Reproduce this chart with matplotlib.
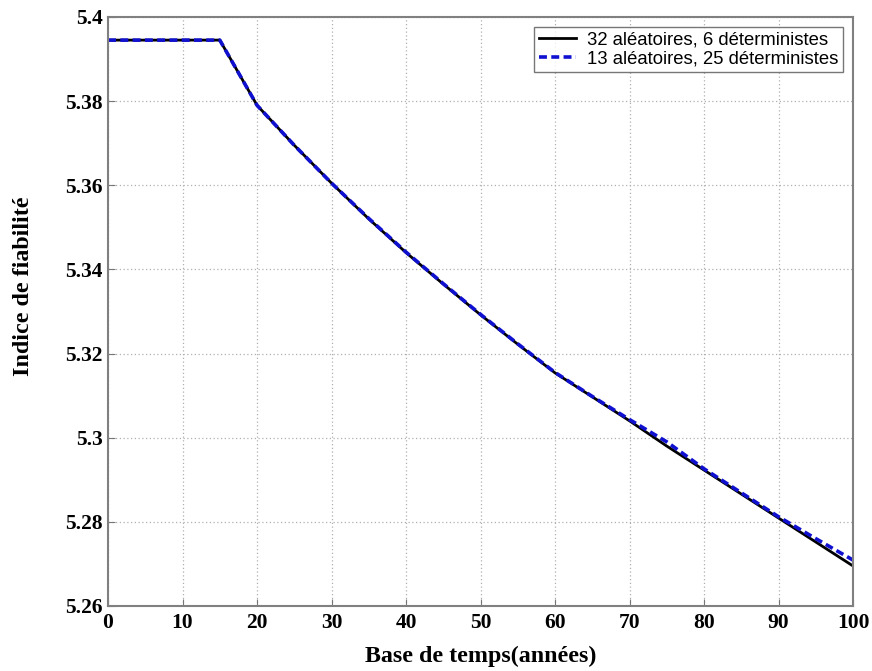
import matplotlib
matplotlib.use("Agg")
import matplotlib.pyplot as plt

t = [0, 5, 10, 15, 20, 25, 30, 35, 40, 45, 50, 55, 60, 65, 70, 75, 80, 85, 90, 95, 100]
beta_32 = [5.3945, 5.3945, 5.3945, 5.3945, 5.3790, 5.3695, 5.3605, 5.3520, 5.3440, 5.3365, 5.3292,
           5.3222, 5.3154, 5.3097, 5.3040, 5.2980, 5.2923, 5.2866, 5.2809, 5.2752, 5.2695]
beta_13 = [5.3945, 5.3945, 5.3945, 5.3945, 5.3790, 5.3695, 5.3605, 5.3521, 5.3441, 5.3366, 5.3293,
           5.3223, 5.3155, 5.3098, 5.3043, 5.2990, 5.2926, 5.2869, 5.2812, 5.2760, 5.2709]
labels = ["32 aléatoires, 6 déterministes", "13 aléatoires, 25 déterministes"]
xticks = [0, 10, 20, 30, 40, 50, 60, 70, 80, 90, 100]
yticks = [5.26, 5.28, 5.3, 5.32, 5.34, 5.36, 5.38, 5.4]
yticklabels = ["5.26", "5.28", "5.3", "5.32", "5.34", "5.36", "5.38", "5.4"]

fig = plt.figure(figsize=(8.72, 6.71), dpi=100)
ax = fig.add_axes([0.1239, 0.0969, 0.8544, 0.8778])

ax.plot(t, beta_32, color="black", lw=2.0, label=labels[0])
ax.plot(t, beta_13, color="#1010d0", lw=2.6, ls=(0, (2.2, 1.2)), label=labels[1])

ax.set_xlim(0, 100)
ax.set_ylim(5.26, 5.4)
ax.set_xticks(xticks)
ax.set_yticks(yticks)
ax.set_yticklabels(yticklabels)
for lab in ax.get_xticklabels() + ax.get_yticklabels():
    lab.set_fontfamily("Liberation Serif")
    lab.set_fontweight("bold")
    lab.set_fontsize(15.5)
ax.tick_params(direction="in", length=5, color="#777777")
ax.tick_params(axis="x", pad=5)
ax.tick_params(axis="y", pad=4)
for s in ax.spines.values():
    s.set_color("#808080")
    s.set_linewidth(1.5)
ax.grid(True, color="#b0b0b0", ls=(0, (1, 2)), lw=0.9)

ax.set_xlabel("Base de temps(années)", fontfamily="Liberation Serif", fontweight="bold", fontsize=17.3)
ax.set_ylabel("Indice de fiabilité", fontfamily="Liberation Serif", fontweight="bold", fontsize=17.3)
ax.xaxis.set_label_coords(0.5, -0.068)
ax.yaxis.set_label_coords(-0.099, 0.542)

leg = ax.legend(loc="upper right", prop=dict(family="Liberation Sans", size=13.3),
                frameon=True, fancybox=False, edgecolor="#555555", handlelength=2.0,
                borderaxespad=0.55, labelspacing=0.1, borderpad=0.25, handletextpad=0.6)
leg.get_frame().set_linewidth(1.0)

fig.savefig("out.png", dpi=100)
